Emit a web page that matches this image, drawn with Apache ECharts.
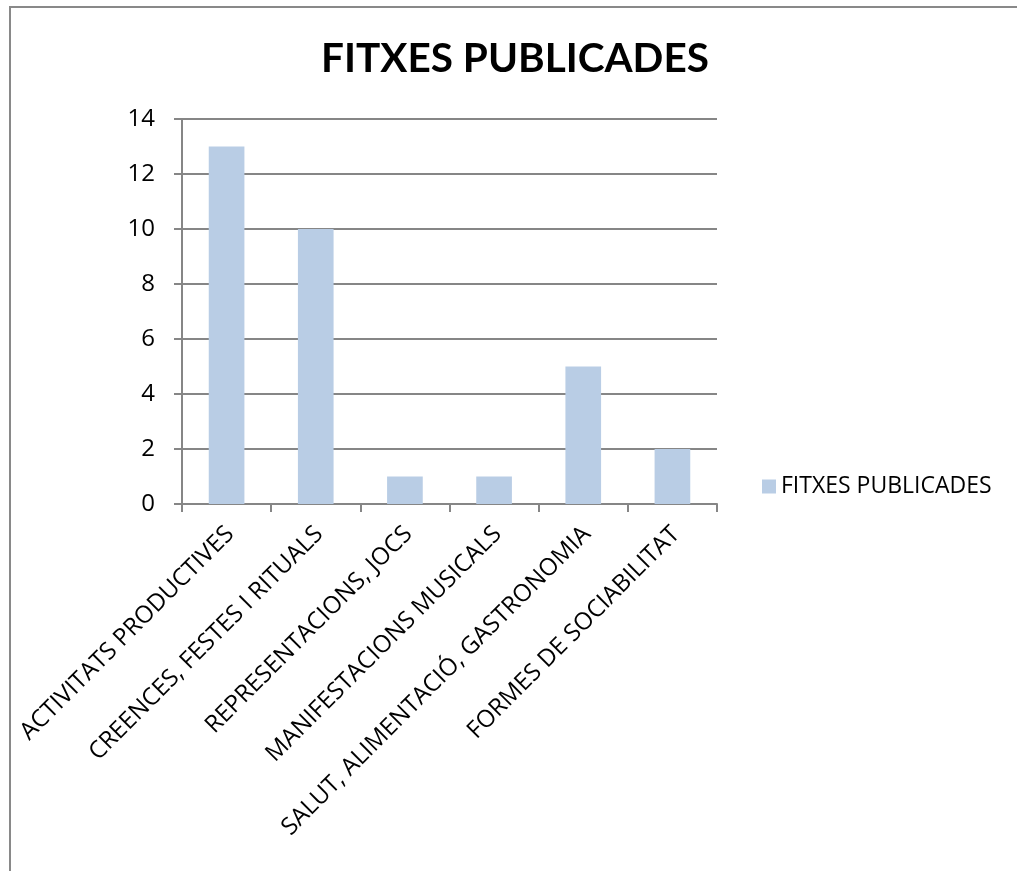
<!DOCTYPE html>
<html>
<head>
<meta charset="utf-8">
<script src="https://cdn.jsdelivr.net/npm/echarts@6/dist/echarts.min.js"></script>
<style>
html,body{margin:0;padding:0;background:#fff;}
#chart{width:1017px;height:871px;}
</style>
</head>
<body>
<div id="chart"></div>
<script>
const categories = ["ACTIVITATS PRODUCTIVES", "CREENCES, FESTES I RITUALS", "REPRESENTACIONS, JOCS", "MANIFESTACIONS MUSICALS", "SALUT, ALIMENTACIÓ, GASTRONOMIA", "FORMES DE SOCIABILITAT"];
const values = [13, 10, 1, 1, 5, 2];
const seriesName = "FITXES PUBLICADES";
const titleText = "FITXES PUBLICADES";

const chart = echarts.init(document.getElementById('chart'), null, {renderer: 'canvas'});
const font = '"Open Sans", sans-serif';
chart.setOption({
  animation: false,
  backgroundColor: '#ffffff',
  title: {
    text: titleText,
    left: 510, top: 33, textAlign: 'center',
    textStyle: {fontFamily: 'Lato, sans-serif', fontWeight: 'bold', fontSize: 40.5, color: '#000'}
  },
  legend: {
    data: [seriesName],
    left: 757, top: 470,
    icon: 'rect', itemWidth: 14, itemHeight: 14, itemGap: 5,
    textStyle: {fontFamily: font, fontSize: 23, color: '#000'}
  },
  grid: {left: 182, right: 300, top: 119, bottom: 367, containLabel: false},
  xAxis: {
    type: 'category', data: categories,
    axisLine: {lineStyle: {color: '#868686', width: 2}},
    axisTick: {show: true, alignWithLabel: false, length: 8, lineStyle: {color: '#868686', width: 2}},
    axisLabel: {rotate: 45, interval: 0, margin: 30, padding: [16, -5, 0, 0], fontFamily: font, fontSize: 24, color: '#000'}
  },
  yAxis: {
    type: 'value', min: 0, max: 14, interval: 2,
    axisLine: {show: true, lineStyle: {color: '#868686', width: 2}},
    axisTick: {show: true, length: 8, lineStyle: {color: '#868686', width: 2}},
    splitLine: {lineStyle: {color: '#868686', width: 2}},
    axisLabel: {margin: 27, fontFamily: font, fontSize: 24, color: '#000'}
  },
  series: [{
    name: seriesName, type: 'bar', data: values,
    barWidth: '40%',
    itemStyle: {color: '#B9CDE5'}
  }],
  graphic: [{
    type: 'rect', shape: {x: 10, y: 7, width: 1200, height: 1000},
    style: {fill: 'none', stroke: '#898989', lineWidth: 2}, z: 100
  }]
});
</script>
</body>
</html>
